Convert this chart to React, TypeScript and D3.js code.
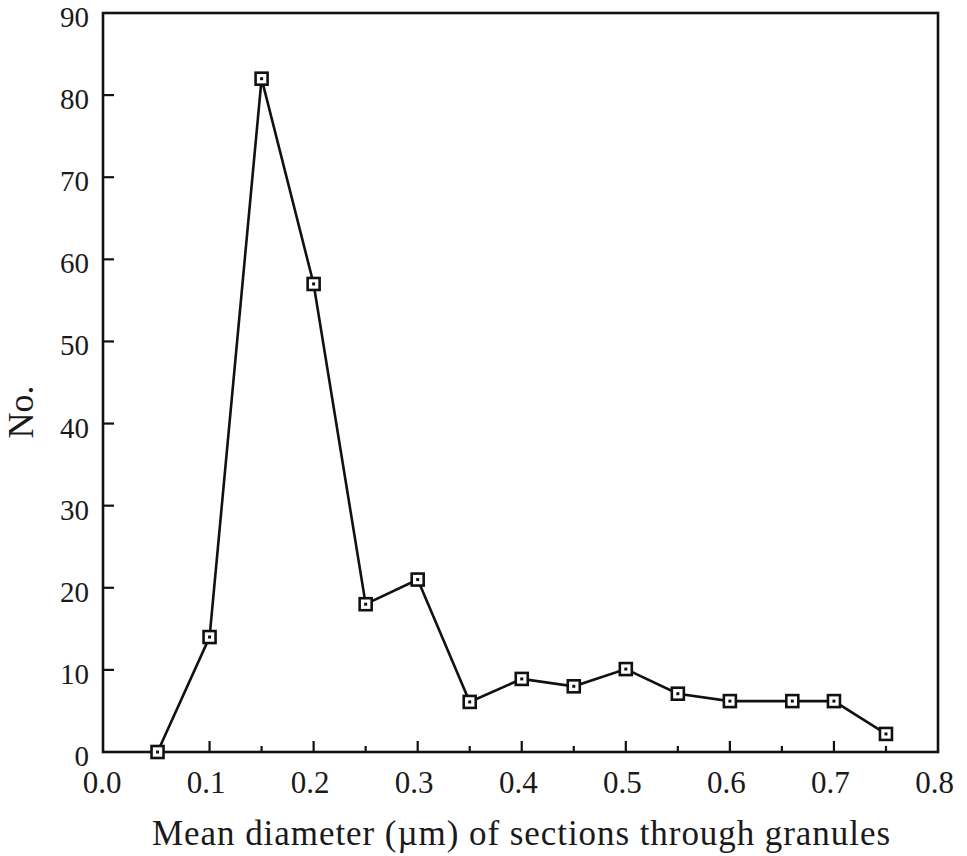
import React from "react";
import * as d3 from "d3";

const diameters = [0.05, 0.1, 0.15, 0.2, 0.25, 0.3, 0.35, 0.4, 0.45, 0.5, 0.55, 0.6, 0.66, 0.7, 0.75];
const counts = [0, 14, 82, 57, 18, 21, 6.1, 8.9, 8, 10.1, 7.1, 6.2, 6.2, 6.2, 2.2];
const xMajorTicks = [0, 0.1, 0.2, 0.3, 0.4, 0.5, 0.6, 0.7, 0.8];
const xMinorTicks = [0.05, 0.15, 0.25, 0.35, 0.45, 0.55, 0.65, 0.75];
const yTicks = [0, 10, 20, 30, 40, 50, 60, 70, 80, 90];

export default function App() {
  const W = 967, H = 856;
  const left = 103, right = 938, top = 13, bottom = 752;
  const x = d3.scaleLinear().domain([0, 0.8]).range([105.5, right]);
  const y = d3.scaleLinear().domain([0, 90]).range([bottom, top]);
  const line = d3.line<number>().x((_, i) => x(diameters[i])).y((d) => y(d));
  const font = "'Liberation Serif', 'Times New Roman', serif";
  return (
    <svg width={W} height={H} style={{ position: "absolute", left: 0, top: 0, background: "#fff" }}>
      <rect x={left} y={top} width={right - left} height={bottom - top} fill="none" stroke="#111" strokeWidth={2.6} />
      {yTicks.map((t) => (
        <g key={"y" + t}>
          {t > 0 && t < 90 && <line x1={left} x2={left + 11} y1={y(t)} y2={y(t)} stroke="#111" strokeWidth={2.2} />}
          <text x={89} y={y(t) + 14} textAnchor="end" fontSize={29} fontFamily={font} fill="#1a1a1a">{t}</text>
        </g>
      ))}
      {xMajorTicks.map((t) => (
        <g key={"x" + t}>
          {t > 0 && t < 0.8 && <line x1={x(t)} x2={x(t)} y1={bottom} y2={bottom - 11} stroke="#111" strokeWidth={2.2} />}
          <text x={x(t) - 3.5} y={793} textAnchor="middle" fontSize={31} fontFamily={font} fill="#1a1a1a">{t.toFixed(1)}</text>
        </g>
      ))}
      {xMinorTicks.map((t) => (
        <line key={"m" + t} x1={x(t)} x2={x(t)} y1={bottom} y2={bottom - 6} stroke="#111" strokeWidth={2.2} />
      ))}
      <path d={line(counts) || ""} fill="none" stroke="#111" strokeWidth={2.6} />
      {counts.map((c, i) => (
        <g key={"p" + i}>
          <rect x={x(diameters[i]) - 6} y={y(c) - 6} width={12} height={12} fill="#fff" stroke="#111" strokeWidth={2.6} />
          <rect x={x(diameters[i]) - 1.5} y={y(c) - 1.5} width={3} height={3} fill="#111" />
        </g>
      ))}
      <text x={152} y={845} textAnchor="start" fontSize={35} fontFamily={font} fill="#1a1a1a" textLength={738} lengthAdjust="spacing">Mean diameter (µm) of sections through granules</text>
      <text transform={`translate(33, 412) rotate(-90)`} textAnchor="middle" fontSize={36} fontFamily={font} fill="#1a1a1a">No.</text>
    </svg>
  );
}
